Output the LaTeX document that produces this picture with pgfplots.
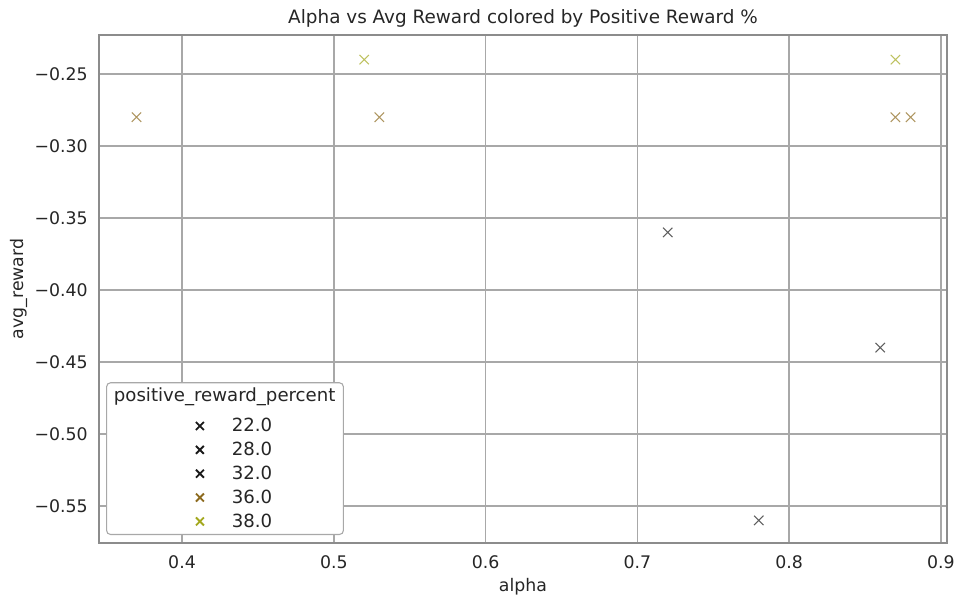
\documentclass[border=0pt]{standalone}
\usepackage{fontspec}
\setmainfont{DejaVu Sans}
\usepackage{pgfplots}
\pgfplotsset{compat=1.18}

\definecolor{gridgray}{HTML}{A8A8A8}
\definecolor{framegray}{HTML}{8C8C8C}
\definecolor{pblack}{HTML}{1A1A1A}
\definecolor{pbrown}{HTML}{8C6A1E}
\definecolor{polive}{HTML}{A3A81E}

\begin{document}
\begin{tikzpicture}
% page = 954x596 px at 0.75pt per px, axis SW corner at px (99,543)
\useasboundingbox (-74.25pt,-39.75pt) rectangle (641.25pt,407.25pt);
\begin{axis}[
  at={(0pt,0pt)}, anchor=south west,
  scale only axis,
  width=636pt, height=381pt,
  xmin=0.3453, xmax=0.904,
  ymin=-0.5757, ymax=-0.2229,
  xtick={0.4,0.5,0.6,0.7,0.8,0.9},
  xticklabels={0.4,0.5,0.6,0.7,0.8,0.9},
  ytick={-0.55,-0.5,-0.45,-0.4,-0.35,-0.3,-0.25},
  yticklabels={−0.55,−0.50,−0.45,−0.40,−0.35,−0.30,−0.25},
  tick style={draw=none},
  grid=major,
  major grid style={draw=gridgray, line width=1.1pt},
  axis line style={draw=framegray, line width=1.2pt},
  tick label style={font=\fontsize{13}{15}\selectfont, text=black!85},
  xticklabel style={yshift=-6pt},
  yticklabel style={xshift=-5pt},
  label style={font=\fontsize{13}{15}\selectfont, text=black!85},
  title style={font=\fontsize{13.8}{16}\selectfont, text=black!85, yshift=-4pt},
  title={Alpha vs Avg Reward colored by Positive Reward \%},
  xlabel={alpha},
  ylabel={avg\_reward},
  xlabel style={yshift=-0.5pt},
  ylabel style={yshift=-2pt},
  legend style={
    at={(0.0083,0.0157)}, anchor=south west,
    draw=gridgray, rounded corners=3pt, line width=0.8pt,
    font=\fontsize{13.6}{16}\selectfont, text=black!85,
    inner xsep=4pt, inner ysep=2pt,
    row sep=2.3pt,
    cells={anchor=west},
  },
  legend image code/.code={
    \path[draw=none, fill=none] (0pt,-4pt) rectangle (88pt,4pt);
    \draw[#1, opacity=1, line width=1.4pt, mark size=4.2pt] plot coordinates {(66pt,0pt)};
  },
]
\addlegendimage{empty legend}
\addlegendentry{\hspace*{-88.5pt}\raisebox{4.5pt}{positive\_reward\_percent}}

\addplot[only marks, mark=x, mark size=5pt, line width=0.8pt, draw=pblack, opacity=0.7]
  coordinates {(0.72,-0.36)};
\addlegendentry{22.0}
\addplot[only marks, mark=x, mark size=5pt, line width=0.8pt, draw=pblack, opacity=0.7]
  coordinates {(0.78,-0.56)};
\addlegendentry{28.0}
\addplot[only marks, mark=x, mark size=5pt, line width=0.8pt, draw=pblack, opacity=0.7]
  coordinates {(0.86,-0.44)};
\addlegendentry{32.0}
\addplot[only marks, mark=x, mark size=5pt, line width=0.8pt, draw=pbrown, opacity=0.7]
  coordinates {(0.37,-0.28) (0.53,-0.28) (0.87,-0.28) (0.88,-0.28)};
\addlegendentry{36.0}
\addplot[only marks, mark=x, mark size=5pt, line width=0.8pt, draw=polive, opacity=0.7]
  coordinates {(0.52,-0.24) (0.87,-0.24)};
\addlegendentry{38.0}
\end{axis}
\end{tikzpicture}
\end{document}
